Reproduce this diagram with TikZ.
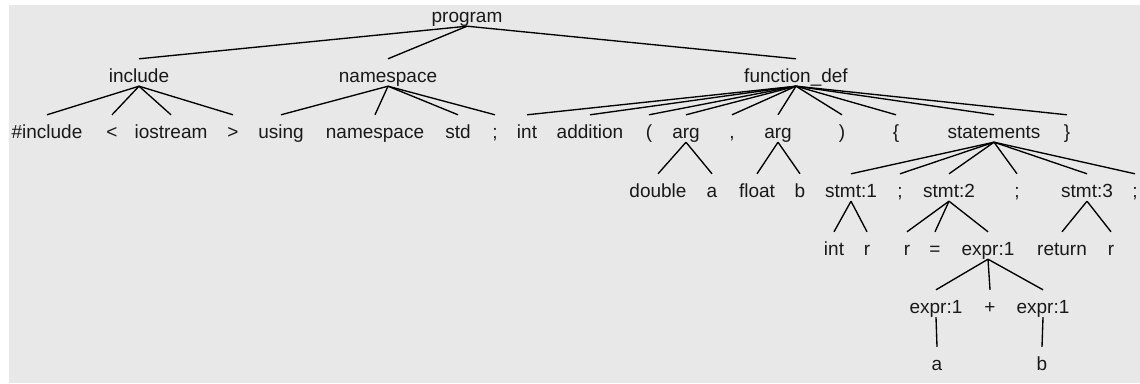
\documentclass[tikz,border=0pt]{standalone}
\usepackage{fontspec}
\setmainfont{Liberation Sans}
\definecolor{panel}{RGB}{232,232,232}
\begin{document}
\begin{tikzpicture}[x=1pt,y=-1pt,
  tn/.style={anchor=base, inner sep=0pt, text height=23pt, text depth=4pt,
             font=\fontsize{19}{19}\selectfont, text=black!90},
  edge/.style={draw=black, line width=1.35pt}]
\useasboundingbox (0,0) rectangle (1140,383);
\fill[white] (0,0) rectangle (1140,383);
\fill[panel] (9,5) rectangle (1140,383);
% row 1
\node[tn] (prog) at (467,22) {program};
% row 2
\node[tn] (inc) at (139,82) {include};
\node[tn] (ns) at (388,82) {namespace};
\node[tn] (fd) at (796,82) {function\_def};
% row 3
\node[tn] (hinc) at (47,138) {\#include};
\node[tn] (lt) at (112,138) {<};
\node[tn] (ios) at (171,138) {iostream};
\node[tn] (gt) at (233,138) {>};
\node[tn] (using) at (281,138) {using};
\node[tn] (nsk) at (375,138) {namespace};
\node[tn] (std) at (458,138) {std};
\node[tn] (sc1) at (495,138) {;};
\node[tn] (int1) at (527,138) {int};
\node[tn] (add) at (590,138) {addition};
\node[tn] (lpar) at (649,138) {(};
\node[tn] (arga) at (686,138) {arg};
\node[tn] (comma) at (732,138) {,};
\node[tn] (argb) at (778,138) {arg};
\node[tn] (rpar) at (842,138) {)};
\node[tn] (lbr) at (896,138) {\{};
\node[tn] (stmts) at (994,138) {statements};
\node[tn] (rbr) at (1067,138) {\}};
% row 4
\node[tn] (dbl) at (658,197) {double};
\node[tn] (va) at (712,197) {a};
\node[tn] (flt) at (757,197) {float};
\node[tn] (vb) at (800,197) {b};
\node[tn] (s1) at (851,197) {stmt:1};
\node[tn] (sc2) at (900,197) {;};
\node[tn] (s2) at (949,197) {stmt:2};
\node[tn] (sc3) at (1017,197) {;};
\node[tn] (s3) at (1087,197) {stmt:3};
\node[tn] (sc4) at (1135,197) {;};
% row 5
\node[tn] (int2) at (834,255) {int};
\node[tn] (r1) at (867,255) {r};
\node[tn] (r2) at (907,255) {r};
\node[tn] (eq) at (935,255) {=};
\node[tn] (e1) at (988,255) {expr:1};
\node[tn] (ret) at (1062,255) {return};
\node[tn] (r3) at (1111,255) {r};
% row 6
\node[tn] (e2) at (936,313) {expr:1};
\node[tn] (plus) at (990,313) {+};
\node[tn] (e3) at (1043,313) {expr:1};
% row 7
\node[tn] (a2) at (937,370) {a};
\node[tn] (b2) at (1042,370) {b};
% edges
\foreach \c in {inc,ns,fd} \draw[edge] (prog.south) -- (\c.north);
\foreach \c in {hinc,lt,ios,gt} \draw[edge] (inc.south) -- (\c.north);
\foreach \c in {using,nsk,std,sc1} \draw[edge] (ns.south) -- (\c.north);
\foreach \c in {int1,add,lpar,arga,comma,argb,rpar,lbr,stmts,rbr} \draw[edge] (fd.south) -- (\c.north);
\foreach \c in {dbl,va} \draw[edge] (arga.south) -- (\c.north);
\foreach \c in {flt,vb} \draw[edge] (argb.south) -- (\c.north);
\foreach \c in {s1,sc2,s2,sc3,s3,sc4} \draw[edge] (stmts.south) -- (\c.north);
\foreach \c in {int2,r1} \draw[edge] (s1.south) -- (\c.north);
\foreach \c in {r2,eq,e1} \draw[edge] (s2.south) -- (\c.north);
\foreach \c in {ret,r3} \draw[edge] (s3.south) -- (\c.north);
\foreach \c in {e2,plus,e3} \draw[edge] (e1.south) -- (\c.north);
\draw[edge] (e2.south) -- (a2.north);
\draw[edge] (e3.south) -- (b2.north);
\end{tikzpicture}
\end{document}
